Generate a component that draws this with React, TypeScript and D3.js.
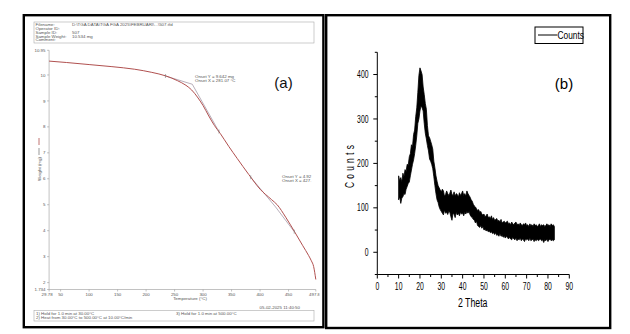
import React from "react";
import * as d3 from "d3";

// ---- (a) TGA run ----
const tgaTemp = [29.78, 60, 100, 140, 180, 210, 235, 255, 270, 280, 290, 300, 310, 320, 330, 345, 360, 380, 400, 420, 430, 445, 460, 475, 485, 490, 494, 497.81];
const tgaWeight = [10.534, 10.48, 10.4, 10.32, 10.22, 10.1, 9.96, 9.78, 9.6, 9.42, 9.15, 8.82, 8.42, 8.05, 7.75, 7.25, 6.78, 6.17, 5.6, 5.2, 5.0, 4.52, 3.98, 3.42, 3.05, 2.84, 2.62, 2.12];
const tgaYTicks = [10.95, 10, 9, 8, 7, 6, 5, 4, 3, 2, 1.734];
const tgaXTicks = [29.78, 50, 100, 150, 200, 250, 300, 350, 400, 450, 497.81];

// tangent construction for the two onsets: [start, onset, end]
const onset1 = [[233.9, 9.96], [281.07, 9.642], [327.8, 7.82]];
const onset2 = [[383.6, 6.06], [427, 4.92], [460, 3.96]];

const headerLabels = ["Filename:", "Operator ID:", "Sample ID:", "Sample Weight:", "Comment:"];
const headerValues = ["D:\\TGA DATA\\TGA FGA 2025\\FEBRUARI\\...\\507.tfd", "", "507", "10.534 mg", ""];
const methodSteps = ["1)  Hold for 1.0 min at 30.00°C", "2)  Heat from 30.00°C to 500.00°C at 10.00°C/min", "3)  Hold for 1.0 min at 500.00°C"];

// ---- (b) XRD pattern: upper / lower edge of the noisy trace every 0.5° ----
const xrdTheta = [
  10, 10.5, 11, 11.5, 12, 12.5, 13, 13.5, 14, 14.5,
  15, 15.5, 16, 16.5, 17, 17.5, 18, 18.5, 19, 19.5,
  20, 20.5, 21, 21.5, 22, 22.5, 23, 23.5, 24, 24.5,
  25, 25.5, 26, 26.5, 27, 27.5, 28, 28.5, 29, 29.5,
  30, 30.5, 31, 31.5, 32, 32.5, 33, 33.5, 34, 34.5,
  35, 35.5, 36, 36.5, 37, 37.5, 38, 38.5, 39, 39.5,
  40, 40.5, 41, 41.5, 42, 42.5, 43, 43.5, 44, 44.5,
  45, 45.5, 46, 46.5, 47, 47.5, 48, 48.5, 49, 49.5,
  50, 50.5, 51, 51.5, 52, 52.5, 53, 53.5, 54, 54.5,
  55, 55.5, 56, 56.5, 57, 57.5, 58, 58.5, 59, 59.5,
  60, 60.5, 61, 61.5, 62, 62.5, 63, 63.5, 64, 64.5,
  65, 65.5, 66, 66.5, 67, 67.5, 68, 68.5, 69, 69.5,
  70, 70.5, 71, 71.5, 72, 72.5, 73, 73.5, 74, 74.5,
  75, 75.5, 76, 76.5, 77, 77.5, 78, 78.5, 79, 79.5,
  80, 80.5, 81, 81.5, 82, 82.5, 83,
];
const xrdHigh = [
  172, 160, 168, 158, 178, 170, 186, 182, 198, 196,
  215, 222, 242, 238, 265, 275, 305, 325, 360, 398,
  415, 408, 400, 372, 355, 335, 322, 285, 262, 258,
  250, 242, 232, 205, 190, 172, 160, 150, 145, 140,
  136, 142, 138, 126, 130, 138, 132, 128, 133, 140,
  130, 128, 136, 126, 132, 130, 124, 134, 128, 132,
  138, 128, 132, 126, 138, 132, 128, 124, 118, 115,
  108, 104, 102, 98, 94, 96, 90, 92, 86, 84,
  86, 80, 82, 86, 78, 80, 76, 82, 74, 78,
  72, 74, 76, 70, 72, 68, 74, 66, 68, 70,
  66, 68, 70, 64, 66, 62, 68, 64, 62, 66,
  68, 62, 64, 60, 66, 62, 60, 64, 62, 66,
  60, 62, 58, 64, 60, 62, 58, 64, 60, 62,
  58, 60, 64, 58, 62, 60, 62, 58, 60, 64,
  60, 62, 58, 64, 60, 62, 58,
];
const xrdLow = [
  118, 125, 110, 122, 125, 132, 130, 142, 148, 155,
  158, 172, 185, 198, 208, 222, 240, 262, 290, 300,
  318, 330, 325, 318, 290, 268, 255, 240, 228, 210,
  205, 198, 188, 170, 150, 132, 118, 112, 102, 96,
  92, 88, 84, 95, 88, 90, 85, 92, 90, 80,
  72, 88, 85, 78, 90, 84, 88, 82, 90, 86,
  88, 82, 90, 86, 92, 88, 92, 84, 80, 78,
  74, 72, 66, 70, 60, 58, 56, 60, 54, 58,
  50, 52, 48, 50, 46, 48, 44, 46, 42, 44,
  40, 44, 38, 40, 36, 42, 36, 38, 34, 36,
  32, 36, 33, 30, 34, 30, 28, 34, 30, 28,
  32, 26, 30, 28, 32, 26, 30, 28, 24, 30,
  28, 30, 26, 32, 26, 28, 30, 24, 28, 26,
  30, 26, 28, 30, 26, 28, 22, 28, 26, 30,
  24, 28, 30, 26, 28, 26, 28,
];
const xrdXTicks = [0, 10, 20, 30, 40, 50, 60, 70, 80, 90];
const xrdYTicks = [0, 100, 200, 300, 400];

const sans = "'Liberation Sans', Arial, sans-serif";
const tiny = { fontFamily: sans, fontSize: 4.4, fill: "#555" };

// condensed label: Liberation Sans squeezed horizontally
function NText({ x, y, size, sx = 0.65, anchor = "start", rotate = 0, spacing = 0, children }: any) {
  return (
    <text
      transform={`translate(${x},${y}) rotate(${rotate}) scale(${sx},1)`}
      textAnchor={anchor}
      fontFamily={sans}
      fontSize={size}
      letterSpacing={spacing}
      fill="#000"
    >
      {children}
    </text>
  );
}

function TgaPanel() {
  const x = d3.scaleLinear().domain([29.78, 497.81]).range([49.1, 315.8]);
  const y = d3.scaleLinear().domain([1.734, 10.95]).range([289.5, 50.3]);
  const pts = tgaTemp.map((t, i) => [t, tgaWeight[i]] as [number, number]);
  const line = d3.line<number[]>().x((d) => x(d[0])).y((d) => y(d[1])).curve(d3.curveMonotoneX);
  const straight = d3.line<number[]>().x((d) => x(d[0])).y((d) => y(d[1]));
  const markers = [onset1[0], onset1[2], onset2[0], onset2[2]];

  return (
    <g>
      <defs>
        <clipPath id="tgaClip">
          <rect x={24} y={15} width={295.5} height={312} />
        </clipPath>
      </defs>
      <g clipPath="url(#tgaClip)">
        {/* header block */}
        <rect x={34} y={22} width={280} height={21} fill="none" stroke="#aaa" strokeWidth={0.6} />
        {headerLabels.map((l, i) => (
          <g key={l}>
            <text x={35.5} y={25.8 + i * 3.9} {...tiny}>{l}</text>
            <text x={72} y={25.8 + i * 3.9} {...tiny}>{headerValues[i]}</text>
          </g>
        ))}

        {/* axes */}
        <line x1={x(29.78)} x2={x(29.78)} y1={y(10.95)} y2={y(1.734)} stroke="#999" strokeWidth={0.6} />
        <line x1={x(29.78)} x2={x(497.81)} y1={y(1.734)} y2={y(1.734)} stroke="#999" strokeWidth={0.6} />
        {tgaYTicks.map((t) => (
          <g key={t}>
            <line x1={x(29.78) - 2} x2={x(29.78)} y1={y(t)} y2={y(t)} stroke="#999" strokeWidth={0.6} />
            <text x={45.5} y={y(t) + 1.6} textAnchor="end" {...tiny}>{t}</text>
          </g>
        ))}
        {tgaXTicks.map((t) => (
          <g key={t}>
            <line x1={x(t)} x2={x(t)} y1={y(1.734)} y2={y(1.734) + 2} stroke="#999" strokeWidth={0.6} />
            <text x={t === 29.78 ? x(t) - 2 : x(t)} y={295.5} textAnchor="middle" {...tiny}>{t}</text>
          </g>
        ))}
        <text x={190} y={300} textAnchor="middle" {...tiny}>Temperature (°C)</text>
        <g transform="translate(40.5,169) rotate(-90)">
          <text x={0} y={0} textAnchor="middle" {...tiny}>Weight (mg)</text>
          <line x1={14} x2={21} y1={-1.5} y2={-1.5} stroke="#555" strokeWidth={0.6} />
          <line x1={24} x2={31} y1={-1.5} y2={-1.5} stroke="#b0504f" strokeWidth={0.8} />
        </g>

        {/* tangents */}
        <path d={straight(onset1) ?? ""} fill="none" stroke="#9a8d9c" strokeWidth={0.7} />
        <path d={straight(onset2) ?? ""} fill="none" stroke="#9a8d9c" strokeWidth={0.7} />

        {/* weight curve */}
        <path d={line(pts) ?? ""} fill="none" stroke="#b0504f" strokeWidth={1} />

        {markers.map((m, i) => (
          <line key={i} x1={x(m[0])} x2={x(m[0])} y1={y(m[1]) - 2} y2={y(m[1]) + 2} stroke="#777" strokeWidth={0.6} />
        ))}

        <text x={195} y={77.5} {...tiny}>Onset Y = 9.642 mg</text>
        <text x={195} y={81.6} {...tiny}>Onset X = 281.07 °C</text>
        <text x={282} y={177.6} {...tiny}>Onset Y = 4.92</text>
        <text x={282} y={181.7} {...tiny}>Onset X = 427.</text>

        <text x={300} y={309.3} textAnchor="end" {...tiny}>05-02-2025 11:40:50</text>
        <rect x={34} y={310.5} width={280} height={10.5} fill="none" stroke="#aaa" strokeWidth={0.6} />
        <text x={36} y={314.6} {...tiny}>{methodSteps[0]}</text>
        <text x={36} y={319} {...tiny}>{methodSteps[1]}</text>
        <text x={176} y={314.6} {...tiny}>{methodSteps[2]}</text>

        <text x={283.5} y={88} textAnchor="middle" fontFamily={sans} fontSize={15} fill="#111">(a)</text>
      </g>
      <rect x={23.8} y={15.2} width={299.6} height={312} fill="none" stroke="#000" strokeWidth={2.4} />
    </g>
  );
}

function XrdPanel() {
  const x = d3.scaleLinear().domain([0, 90]).range([377.3, 569.3]);
  const y = d3.scaleLinear().domain([-50, 450]).range([274.5, 52.3]);
  const band = d3
    .area<number>()
    .x((_, i) => x(xrdTheta[i]))
    .y0((_, i) => y(xrdLow[i]))
    .y1((_, i) => y(xrdHigh[i]));
  const minorX = xrdXTicks.slice(0, -1).map((t) => t + 5);
  const minorY = [-50, 50, 150, 250, 350, 450];

  return (
    <g>
      <path d={band(xrdTheta) ?? ""} fill="#000" stroke="#000" strokeWidth={0.8} />

      <line x1={x(0)} x2={x(0)} y1={y(450)} y2={y(-50)} stroke="#000" strokeWidth={1} />
      <line x1={x(0)} x2={x(90)} y1={y(-50)} y2={y(-50)} stroke="#000" strokeWidth={1} />
      {xrdYTicks.map((t) => (
        <g key={t}>
          <line x1={x(0) - 4} x2={x(0)} y1={y(t)} y2={y(t)} stroke="#000" strokeWidth={1} />
          <NText x={368.5} y={y(t) + 3.6} size={10.5} anchor="end">{t}</NText>
        </g>
      ))}
      {minorY.map((t) => (
        <line key={t} x1={x(0) - 2.5} x2={x(0)} y1={y(t)} y2={y(t)} stroke="#000" strokeWidth={1} />
      ))}
      {xrdXTicks.map((t) => (
        <g key={t}>
          <line x1={x(t)} x2={x(t)} y1={y(-50)} y2={y(-50) + 4} stroke="#000" strokeWidth={1} />
          <NText x={x(t)} y={289.5} size={10.5} anchor="middle">{t}</NText>
        </g>
      ))}
      {minorX.map((t) => (
        <line key={t} x1={x(t)} x2={x(t)} y1={y(-50)} y2={y(-50) + 2.5} stroke="#000" strokeWidth={1} />
      ))}

      <NText x={472.7} y={307} size={13.5} anchor="middle">2 Theta</NText>
      <NText x={353.5} y={165} size={13} anchor="middle" rotate={-90} spacing={5}>Counts</NText>

      <rect x={535} y={27} width={48} height={16.5} fill="#fff" stroke="#000" strokeWidth={1} />
      <line x1={538} x2={557.5} y1={35} y2={35} stroke="#000" strokeWidth={1} />
      <NText x={557.5} y={39.2} size={11} sx={0.76}>Counts</NText>

      <text x={564} y={89} textAnchor="middle" fontFamily={sans} fontSize={15} fill="#000">(b)</text>

      <rect x={326.2} y={15.2} width={284} height={312.8} fill="none" stroke="#000" strokeWidth={2.4} />
    </g>
  );
}

export default function App() {
  return (
    <svg width={630} height={334} style={{ position: "fixed", left: 0, top: 0, background: "#fff" }}>
      <rect width={630} height={334} fill="#fff" />
      <TgaPanel />
      <XrdPanel />
    </svg>
  );
}
